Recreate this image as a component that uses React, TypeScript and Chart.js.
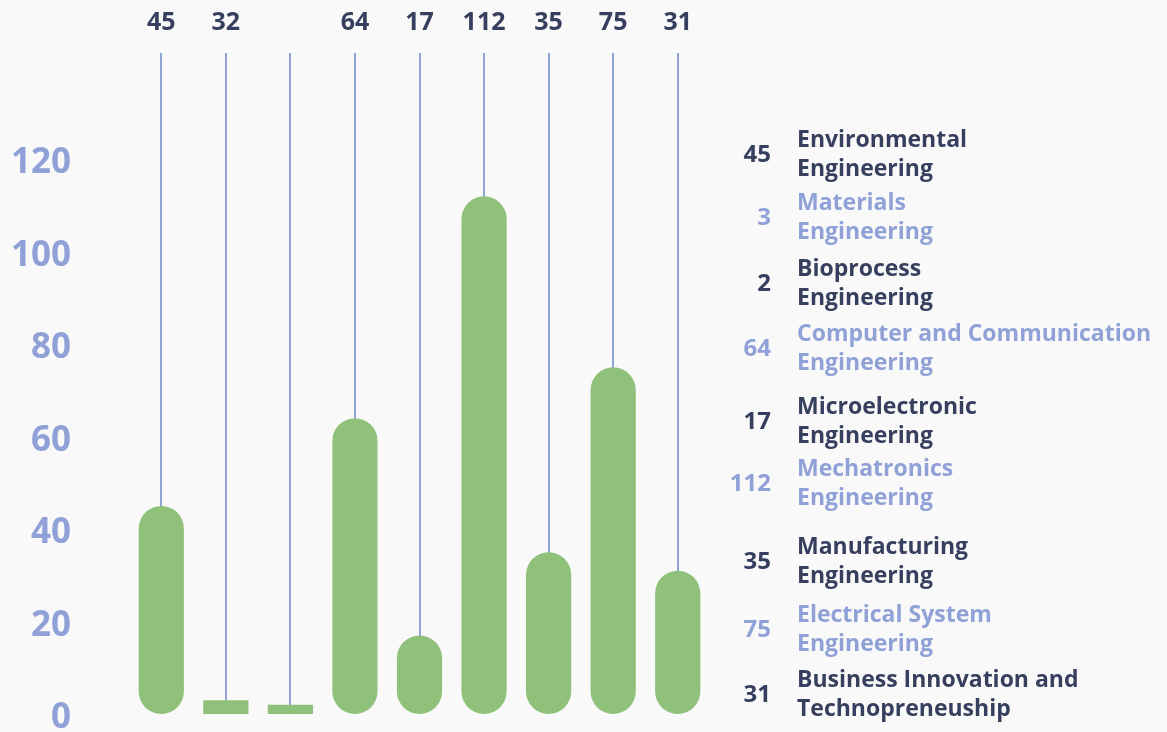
import React, { useEffect, useRef } from "react";
import { Chart, registerables } from "chart.js";

Chart.register(...registerables);

const categories: string[][] = [
  ["Environmental", "Engineering"],
  ["Materials", "Engineering"],
  ["Bioprocess", "Engineering"],
  ["Computer and Communication", "Engineering"],
  ["Microelectronic", "Engineering"],
  ["Mechatronics", "Engineering"],
  ["Manufacturing", "Engineering"],
  ["Electrical System", "Engineering"],
  ["Business Innovation and", "Technopreneuship"],
];
const values: number[] = [45, 3, 2, 64, 17, 112, 35, 75, 31];
const topLabels: string[] = ["45", "32", "", "64", "17", "112", "35", "75", "31"];
const yTicks: number[] = [0, 20, 40, 60, 80, 100, 120];

// layout (pixel rows of the side list)
const LIST_ROW_Y = [155, 218, 284, 349, 422, 484, 562, 630, 695];

const DARK = "#363f5e";
const LIGHT = "#8fa1d6";
const GREEN = "#8fc17b";
const LINE = "#91a4d8";
const BG = "#f9f9f9";
const FONT = "'Open Sans', Lato, sans-serif";

const overlay = {
  id: "overlay",
  beforeDatasetsDraw(chart: any) {
    const { ctx, chartArea } = chart;
    const xs = chart.scales.x;
    const ys = chart.scales.y;
    ctx.save();
    ctx.strokeStyle = LINE;
    ctx.lineWidth = 2;
    values.forEach((v, i) => {
      const x = Math.round(xs.getPixelForValue(i));
      ctx.beginPath();
      ctx.moveTo(x, chartArea.top);
      ctx.lineTo(x, ys.getPixelForValue(v) + 2);
      ctx.stroke();
    });
    ctx.restore();
  },
  afterDraw(chart: any) {
    const { ctx, chartArea } = chart;
    const xs = chart.scales.x;
    const ys = chart.scales.y;
    ctx.save();
    ctx.textBaseline = "middle";
    // y axis labels
    ctx.textAlign = "right";
    ctx.fillStyle = LIGHT;
    ctx.font = `bold 35px ${FONT}`;
    yTicks.forEach((v) => {
      ctx.fillText(String(v), 71, ys.getPixelForValue(v) + 4);
    });
    // top labels
    ctx.textAlign = "center";
    ctx.fillStyle = DARK;
    ctx.font = `bold 25px ${FONT}`;
    topLabels.forEach((t, i) => {
      ctx.fillText(t, xs.getPixelForValue(i), 23);
    });
    // right side list
    const numRight = chartArea.right + 61;
    const nameLeft = chartArea.right + 87;
    categories.forEach((lines, i) => {
      const cy = LIST_ROW_Y[i];
      const color = i % 2 === 0 ? DARK : LIGHT;
      ctx.fillStyle = color;
      ctx.font = `bold 24px ${FONT}`;
      ctx.textAlign = "right";
      ctx.fillText(String(values[i]), numRight, cy);
      ctx.font = `bold 23px ${FONT}`;
      ctx.textAlign = "left";
      lines.forEach((ln, j) => {
        ctx.fillText(ln, nameLeft, cy + (j - (lines.length - 1) / 2) * 29);
      });
    });
    ctx.restore();
  },
};

export default function App() {
  const ref = useRef<HTMLCanvasElement | null>(null);
  useEffect(() => {
    if (!ref.current) return;
    const chart = new Chart(ref.current, {
      type: "bar",
      data: {
        labels: categories,
        datasets: [
          {
            data: values,
            backgroundColor: GREEN,
            borderWidth: 0,
            borderSkipped: false,
            borderRadius: (c: any) => (c.raw < 5 ? 0 : 40),
            barPercentage: 0.7,
            categoryPercentage: 1,
          },
        ],
      },
      options: {
        animation: false,
        responsive: false,
        maintainAspectRatio: false,
        layout: { padding: { top: 53, bottom: 18, right: 457, left: 129 } },
        plugins: { legend: { display: false }, tooltip: { enabled: false } },
        scales: {
          x: { display: false },
          y: { display: false, min: 0, max: 143 },
        },
      },
      plugins: [overlay],
    });
    return () => chart.destroy();
  }, []);
  return (
    <div style={{ position: "fixed", left: 0, top: 0, width: 1167, height: 732, background: BG }}>
      <canvas ref={ref} width={1167} height={732} style={{ display: "block" }} />
    </div>
  );
}
